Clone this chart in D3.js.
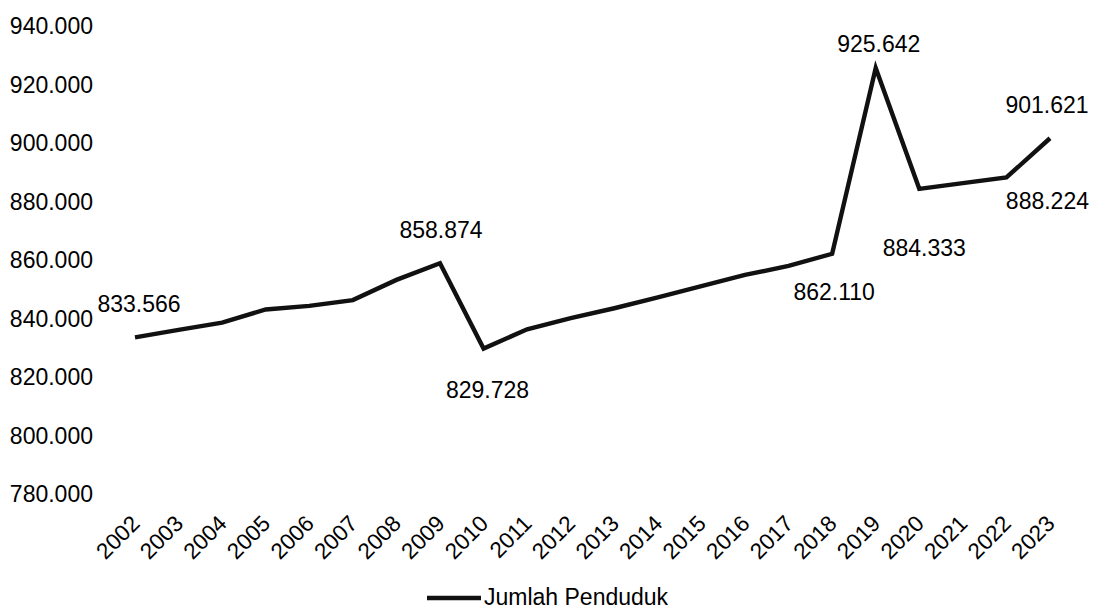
<!DOCTYPE html>
<html><head><meta charset="utf-8">
<script src="https://cdn.jsdelivr.net/npm/d3@7"></script>
<style>body{margin:0;background:#fff}svg{display:block}text{font-family:"Liberation Sans",Arial,sans-serif;fill:#000}</style>
</head><body><svg id="c" width="1094" height="611"></svg>
<script>
const years = ["2002","2003","2004","2005","2006","2007","2008","2009","2010","2011","2012","2013","2014","2015","2016","2017","2018","2019","2020","2021","2022","2023"];
const population = [833566,836100,838600,843100,844300,846300,853200,858874,829728,836300,840100,843500,847200,851100,854900,858000,862110,925642,884333,886300,888224,901621];
const yTicks = [780000,800000,820000,840000,860000,880000,900000,920000,940000];
const labelled = {"2002":"833.566","2009":"858.874","2010":"829.728","2018":"862.110","2019":"925.642","2020":"884.333","2022":"888.224","2023":"901.621"};
const seriesName = "Jumlah Penduduk";

const svg = d3.select("#c");
const x = d3.scalePoint().domain(years).range([135, 1050]);
const y = d3.scaleLinear().domain([780000, 940000]).range([494, 26]);
const fmt = v => d3.format(",")(v).replace(/,/g, ".");

// y axis labels
svg.append("g").selectAll("text").data(yTicks).join("text")
  .attr("x", 93).attr("y", d => y(d)).attr("dy", "0.35em")
  .attr("text-anchor", "end").style("font-size", "23px").text(d => fmt(d));

// x axis labels
svg.append("g").selectAll("text").data(years).join("text")
  .attr("transform", d => `translate(${x(d) + 6},525) rotate(-45)`)
  .attr("text-anchor", "end").style("font-size", "22.5px").text(d => d);

// line
const data = years.map((yr, i) => ({yr, v: population[i]}));
svg.append("path").datum(data)
  .attr("fill", "none").attr("stroke", "#111").attr("stroke-width", 4.4)
  .attr("stroke-linejoin", "miter")
  .attr("d", d3.line().x(d => x(d.yr)).y(d => y(d.v)));

// data labels (offsets relative to point)
const offs = {"2002":[4,-33],"2009":[1,-33],"2010":[4,41],"2018":[2,38],"2019":[3,-24],"2020":[5,59],"2022":[41,24],"2023":[-3,-33]};
svg.append("g").selectAll("text").data(data.filter(d => labelled[d.yr])).join("text")
  .attr("x", d => x(d.yr) + offs[d.yr][0]).attr("y", d => y(d.v) + offs[d.yr][1])
  .attr("dy", "0.35em").attr("text-anchor", "middle").style("font-size", "23px")
  .text(d => labelled[d.yr]);

// legend
const lg = svg.append("g");
lg.append("line").attr("x1", 427).attr("x2", 481).attr("y1", 598).attr("y2", 598)
  .attr("stroke", "#111").attr("stroke-width", 4.4);
lg.append("text").attr("x", 484).attr("y", 597).attr("dy", "0.35em")
  .style("font-size", "23px").text(seriesName);
</script></body></html>
